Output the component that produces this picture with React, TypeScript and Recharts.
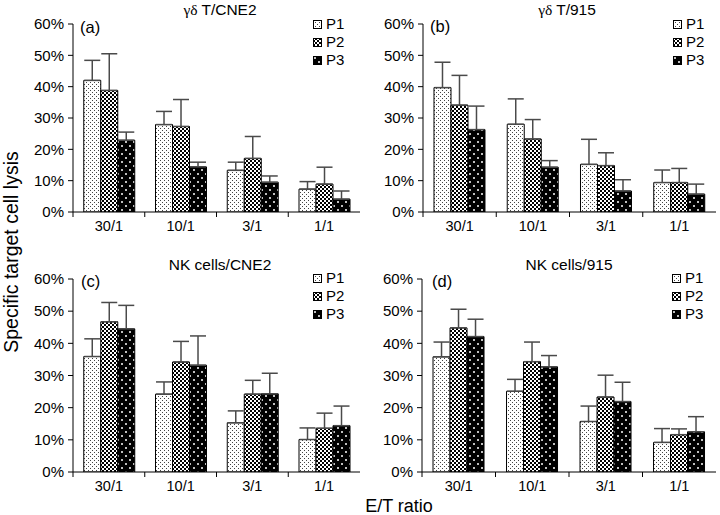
import { Bar, BarChart, ErrorBar, XAxis, YAxis } from "recharts";

const categories = ["30/1", "10/1", "3/1", "1/1"];
const seriesNames = ["P1", "P2", "P3"];
const yTicks = [0, 10, 20, 30, 40, 50, 60];

// (a) γδ T / CNE2
const gdCne2P1 = [42.0, 27.9, 13.3, 7.3];
const gdCne2P2 = [38.8, 27.3, 17.1, 8.9];
const gdCne2P3 = [22.9, 14.4, 9.5, 4.1];
const gdCne2P1Sd = [6.4, 4.2, 2.6, 2.4];
const gdCne2P2Sd = [11.7, 8.6, 7.0, 5.4];
const gdCne2P3Sd = [2.6, 1.5, 2.0, 2.6];

// (b) γδ T / 915
const gd915P1 = [39.7, 28.0, 15.2, 9.4];
const gd915P2 = [34.1, 23.3, 14.8, 9.4];
const gd915P3 = [26.3, 14.3, 6.7, 5.7];
const gd915P1Sd = [8.1, 8.1, 8.0, 4.0];
const gd915P2Sd = [9.5, 6.2, 4.1, 4.5];
const gd915P3Sd = [7.5, 2.1, 3.6, 3.2];

// (c) NK cells / CNE2
const nkCne2P1 = [35.9, 24.2, 15.3, 10.1];
const nkCne2P2 = [46.7, 34.2, 24.2, 13.6];
const nkCne2P3 = [44.5, 33.2, 24.3, 14.4];
const nkCne2P1Sd = [5.5, 3.8, 3.7, 3.6];
const nkCne2P2Sd = [6.0, 6.4, 4.3, 4.7];
const nkCne2P3Sd = [7.3, 9.1, 6.4, 6.1];

// (d) NK cells / 915
const nk915P1 = [35.8, 25.1, 15.7, 9.2];
const nk915P2 = [44.8, 34.3, 23.3, 11.6];
const nk915P3 = [42.1, 32.7, 21.9, 12.5];
const nk915P1Sd = [4.6, 3.7, 4.8, 4.3];
const nk915P2Sd = [5.8, 6.1, 6.8, 1.8];
const nk915P3Sd = [5.4, 3.5, 6.0, 4.7];

const FONT = "'Liberation Sans', Arial, Helvetica, sans-serif";
const patternIds = ["patP1", "patP2", "patP3"];

type Row = {
  name: string;
  p1: number;
  p2: number;
  p3: number;
  e1: number[];
  e2: number[];
  e3: number[];
};

function buildRows(vals: number[][], sds: number[][]): Row[] {
  return categories.map((name, i) => ({
    name,
    p1: vals[0][i],
    p2: vals[1][i],
    p3: vals[2][i],
    e1: [0, sds[0][i]],
    e2: [0, sds[1][i]],
    e3: [0, sds[2][i]],
  }));
}

function Patterns() {
  return (
    <svg width={0} height={0} style={{ position: "absolute" }}>
      <defs>
        <pattern id="patP1" width={4} height={4} patternUnits="userSpaceOnUse">
          <rect width={4} height={4} fill="#fff" />
          <rect x={0} y={0} width={1} height={1} fill="#444" />
          <rect x={2} y={2} width={1} height={1} fill="#444" />
        </pattern>
        <pattern id="patP2" width={4} height={4} patternUnits="userSpaceOnUse">
          <rect width={4} height={4} fill="#000" />
          <rect x={0} y={0} width={2} height={2} fill="#fff" />
          <rect x={2} y={2} width={2} height={2} fill="#fff" />
        </pattern>
        <pattern id="patP3" width={8} height={8} patternUnits="userSpaceOnUse">
          <rect width={8} height={8} fill="#000" />
          <circle cx={2} cy={2} r={1} fill="#fff" />
          <circle cx={6} cy={6} r={1} fill="#fff" />
        </pattern>
      </defs>
    </svg>
  );
}

function makeTick(band: number) {
  return (props: any) => {
    const { x, y, payload } = props;
    const left = x - band / 2;
    return (
      <g>
        <line x1={left} x2={left} y1={y} y2={y + 5} stroke="#000" />
        <text x={x} y={y + 19} textAnchor="middle" fontSize={14.5} fill="#000" fontFamily={FONT}>
          {payload.value}
        </text>
      </g>
    );
  };
}

type PanelProps = {
  rows: Row[];
  left: number;
  top: number;
  width: number;
  height: number;
  marginTop: number;
  yAxisWidth: number;
  marginRight: number;
};

function Panel({ rows, left, top, width, height, marginTop, yAxisWidth, marginRight }: PanelProps) {
  const plotWidth = width - yAxisWidth - marginRight;
  const band = plotWidth / categories.length;
  const errStyle = { stroke: "#4a4a4a", strokeWidth: 1.5 };
  return (
    <div style={{ position: "absolute", left, top }}>
      <BarChart
        width={width}
        height={height}
        data={rows}
        margin={{ top: marginTop, right: marginRight, left: 0, bottom: 0 }}
        barCategoryGap="15%"
        barGap={0}
      >
        <XAxis
          dataKey="name"
          height={28}
          tickSize={0}
          tickMargin={0}
          tickLine={false}
          axisLine={{ stroke: "#000" }}
          tick={makeTick(band)}
          interval={0}
        />
        <YAxis
          width={yAxisWidth}
          domain={[0, 60]}
          ticks={yTicks}
          tickFormatter={(v: number) => `${v}%`}
          tickSize={5}
          tickMargin={4}
          axisLine={{ stroke: "#000" }}
          tickLine={{ stroke: "#000" }}
          tick={{ fontSize: 15, fill: "#000", fontFamily: FONT }}
          allowDataOverflow
        />
        <Bar dataKey="p1" fill="url(#patP1)" stroke="#000" strokeWidth={1} isAnimationActive={false}>
          <ErrorBar dataKey="e1" width={8} direction="y" {...errStyle} />
        </Bar>
        <Bar dataKey="p2" fill="url(#patP2)" stroke="#000" strokeWidth={1} isAnimationActive={false}>
          <ErrorBar dataKey="e2" width={8} direction="y" {...errStyle} />
        </Bar>
        <Bar dataKey="p3" fill="url(#patP3)" stroke="#000" strokeWidth={1} isAnimationActive={false}>
          <ErrorBar dataKey="e3" width={8} direction="y" {...errStyle} />
        </Bar>
      </BarChart>
    </div>
  );
}

function Legend({ left, top }: { left: number; top: number }) {
  return (
    <div style={{ position: "absolute", left, top, fontFamily: FONT, fontSize: 15, lineHeight: "18px" }}>
      {seriesNames.map((s, i) => (
        <div key={s} style={{ display: "flex", alignItems: "center", height: 18 }}>
          <svg width={9} height={9} style={{ marginRight: 4 }}>
            <rect x={0.5} y={0.5} width={8} height={8} fill={`url(#${patternIds[i]})`} stroke="#000" />
          </svg>
          <span>{s}</span>
        </div>
      ))}
    </div>
  );
}

function Title({ x, y, greek, text }: { x: number; y: number; greek?: string; text: string }) {
  return (
    <div
      style={{
        position: "absolute",
        left: x,
        top: y,
        transform: "translate(-50%, -50%)",
        fontFamily: FONT,
        fontSize: 15.5,
        lineHeight: 1,
        whiteSpace: "nowrap",
      }}
    >
      {greek ? <span style={{ fontFamily: "'Liberation Serif', serif" }}>{greek} </span> : null}
      {text}
    </div>
  );
}

function Tag({ x, y, text }: { x: number; y: number; text: string }) {
  return (
    <div
      style={{
        position: "absolute",
        left: x,
        top: y,
        transform: "translateY(-50%)",
        fontFamily: FONT,
        fontSize: 16.5,
        lineHeight: 1,
      }}
    >
      {text}
    </div>
  );
}

export default function App() {
  const rowsA = buildRows([gdCne2P1, gdCne2P2, gdCne2P3], [gdCne2P1Sd, gdCne2P2Sd, gdCne2P3Sd]);
  const rowsB = buildRows([gd915P1, gd915P2, gd915P3], [gd915P1Sd, gd915P2Sd, gd915P3Sd]);
  const rowsC = buildRows([nkCne2P1, nkCne2P2, nkCne2P3], [nkCne2P1Sd, nkCne2P2Sd, nkCne2P3Sd]);
  const rowsD = buildRows([nk915P1, nk915P2, nk915P3], [nk915P1Sd, nk915P2Sd, nk915P3Sd]);

  return (
    <div style={{ position: "absolute", left: 0, top: 0, width: 720, height: 515, background: "#fff", overflow: "hidden" }}>
      <Patterns />
      <Panel rows={rowsA} left={0} top={0} width={362} height={240} marginTop={24} yAxisWidth={73} marginRight={2} />
      <Panel rows={rowsB} left={360} top={0} width={360} height={240} marginTop={24} yAxisWidth={63} marginRight={4} />
      <Panel rows={rowsC} left={0} top={250} width={362} height={250} marginTop={29} yAxisWidth={73} marginRight={2} />
      <Panel rows={rowsD} left={360} top={250} width={360} height={250} marginTop={29} yAxisWidth={62} marginRight={4} />

      <Title x={220} y={10} greek="γδ" text="T/CNE2" />
      <Title x={567} y={10} greek="γδ" text="T/915" />
      <Title x={220} y={265} text="NK cells/CNE2" />
      <Title x={569} y={265} text="NK cells/915" />

      <Tag x={80} y={27} text="(a)" />
      <Tag x={430} y={26} text="(b)" />
      <Tag x={81} y={281} text="(c)" />
      <Tag x={432} y={281} text="(d)" />

      <Legend left={313} top={15} />
      <Legend left={673} top={15} />
      <Legend left={313} top={269} />
      <Legend left={672} top={269} />

      <div
        style={{
          position: "absolute",
          left: 12,
          top: 252,
          transform: "translate(-50%, -50%) rotate(-90deg)",
          fontFamily: FONT,
          fontSize: 19.5,
          lineHeight: 1,
          whiteSpace: "nowrap",
        }}
      >
        Specific target cell lysis
      </div>
      <div
        style={{
          position: "absolute",
          left: 399,
          top: 506,
          transform: "translate(-50%, -50%)",
          fontFamily: FONT,
          fontSize: 18,
          lineHeight: 1,
          whiteSpace: "nowrap",
        }}
      >
        E/T ratio
      </div>
    </div>
  );
}
